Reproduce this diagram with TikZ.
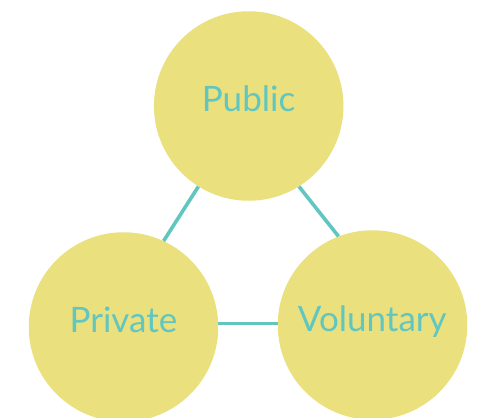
\documentclass[tikz,border=0pt]{standalone}
\usepackage{fontspec}
\setmainfont{Lato}
\definecolor{blobyellow}{HTML}{EAE07E}
\definecolor{tealline}{HTML}{62C6C0}
\begin{document}
\begin{tikzpicture}[x=1pt,y=-1pt,
  blob/.style={circle,fill=blobyellow,minimum size=189.5pt,inner sep=0pt},
  lbl/.style={text=tealline,font=\fontsize{35}{38}\selectfont,anchor=base,inner sep=0pt},
  link/.style={draw=tealline,line width=3.6pt}]
\useasboundingbox (0,0) rectangle (477,418);
\node[blob] (pub) at (248.7,106) {};
\node[blob] (pri) at (123.5,327) {};
\node[blob] (vol) at (372.5,325) {};
\draw[link] (pub.238) -- (pri.65);
\draw[link] (pub.-58) -- (vol.111);
\draw[link] (pri.east |- 0,323.3) -- (vol.west |- 0,323.3);
\node[lbl] (tpub) at (248.5,111.7) {Public};
\node[lbl] (tpri) at (123.4,332.7) {Private};
\node[lbl] (tvol) at (372.3,331) {Voluntary};
\end{tikzpicture}
\end{document}
